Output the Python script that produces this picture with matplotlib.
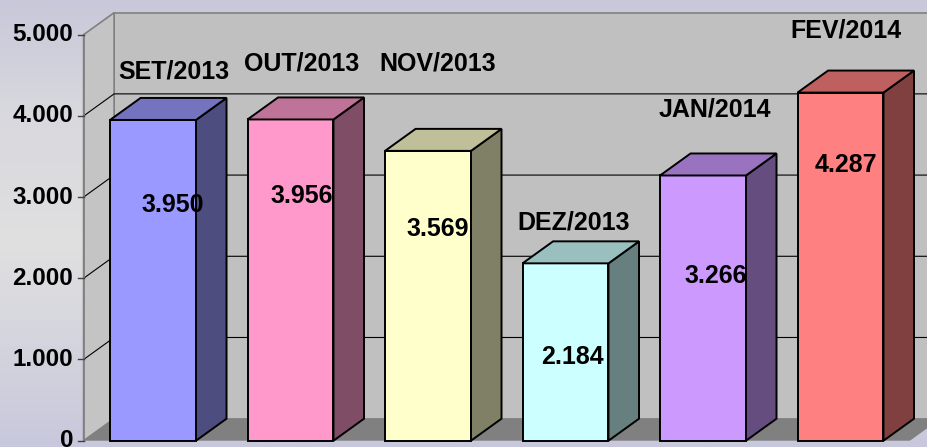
import matplotlib
matplotlib.use("Agg")
import matplotlib.pyplot as plt
from matplotlib.patches import Polygon
from matplotlib.colors import to_rgb, LinearSegmentedColormap
import numpy as np

# data
months = ["SET/2013", "OUT/2013", "NOV/2013", "DEZ/2013", "JAN/2014", "FEV/2014"]
values = [3950, 3956, 3569, 2184, 3266, 4287]
colors = ["#9999ff", "#ff99cc", "#ffffcc", "#ccffff", "#cc99ff", "#ff8080"]
yticks = [0, 1000, 2000, 3000, 4000, 5000]

# label placement (layout, data units)
name_pos = [(0.149, 4541), (1.084, 4651), (2.069, 4651), (3.062, 2693), (4.084, 4073), (5.04, 5046)]
value_pos = [(0.145, 2903), (1.081, 3010), (2.067, 2607), (3.051, 1031), (4.095, 2028), (5.042, 3395)]

plt.rcParams['font.family'] = ['Liberation Sans', 'DejaVu Sans']
FS = 18

def fmt(v):
    return "{:,}".format(v).replace(",", ".")

def shade(c, f):
    r, g, b = to_rgb(c)
    return (r * f, g * f, b * f)

fig = plt.figure(figsize=(9.27, 4.47), dpi=100)
ax = fig.add_axes([0, 0, 1, 1])
x0, x1 = -1.113, 5.629
y0, y1 = -77.6, 5427
ax.set_xlim(x0, x1)
ax.set_ylim(y0, y1)
ax.axis('off')

# background gradient
cmap = LinearSegmentedColormap.from_list(
    "bg", [(0, "#c8c8dc"), (0.45, "#e0e0e0"), (0.75, "#d8d8de"), (1, "#c8c8da")])
grad = np.linspace(0, 1, 256).reshape(-1, 1)
ax.imshow(grad, extent=[x0, x1, y1, y0], aspect='auto', cmap=cmap, zorder=0)
ax.set_ylim(y0, y1)

DX = 0.222   # depth offset in category units
DY = 271     # depth offset in value units
left, right = -0.505, 5.505
top = yticks[-1]
wall = "#c0c0c0"
edge = "#808080"

# back wall
ax.add_patch(Polygon([(left + DX, DY), (right + DX, DY), (right + DX, top + DY), (left + DX, top + DY)],
                     closed=True, fc=wall, ec=edge, lw=1.2, zorder=1))
# side wall
ax.add_patch(Polygon([(left, 0), (left + DX, DY), (left + DX, top + DY), (left, top)],
                     closed=True, fc="#c4c4c4", ec=edge, lw=1.2, zorder=1))
# floor
ax.add_patch(Polygon([(left, 0), (right, 0), (right + DX, DY), (left + DX, DY)],
                     closed=True, fc="#808080", ec="none", zorder=1.5))

# gridlines
for t in yticks[1:-1]:
    ax.plot([left, left + DX, right + DX], [t, t + DY, t + DY], color="black", lw=0.8, zorder=2)

# value axis
ax.plot([left, left], [0, top], color=edge, lw=1.2, zorder=2)
for t in yticks:
    ax.plot([left - 0.04, left], [t, t], color="#404040", lw=1, zorder=2)
    ax.text(left - 0.077, t, fmt(t), ha='right', va='center', fontsize=FS - 0.5,
            fontweight='bold', zorder=5)

# bars
w = 0.625
for i, (v, c) in enumerate(zip(values, colors)):
    xl, xr = i - w / 2, i + w / 2
    ax.add_patch(Polygon([(xl, 0), (xr, 0), (xr, v), (xl, v)], closed=True,
                         fc=c, ec="black", lw=1.4, zorder=3, joinstyle='miter'))
    ax.add_patch(Polygon([(xr, 0), (xr + DX, DY), (xr + DX, v + DY), (xr, v)], closed=True,
                         fc=shade(c, 0.5), ec="black", lw=1.4, zorder=3, joinstyle='miter'))
    ax.add_patch(Polygon([(xl, v), (xl + DX, v + DY), (xr + DX, v + DY), (xr, v)], closed=True,
                         fc=shade(c, 0.75), ec="black", lw=1.4, zorder=3, joinstyle='miter'))

# labels
for name, v, (nx, ny), (vx, vy) in zip(months, values, name_pos, value_pos):
    ax.text(nx, ny, name, ha='center', va='center', fontsize=FS, fontweight='bold', zorder=5)
    ax.text(vx, vy, fmt(v), ha='center', va='center', fontsize=FS, fontweight='bold', zorder=5)

fig.savefig("out.png", dpi=100)
